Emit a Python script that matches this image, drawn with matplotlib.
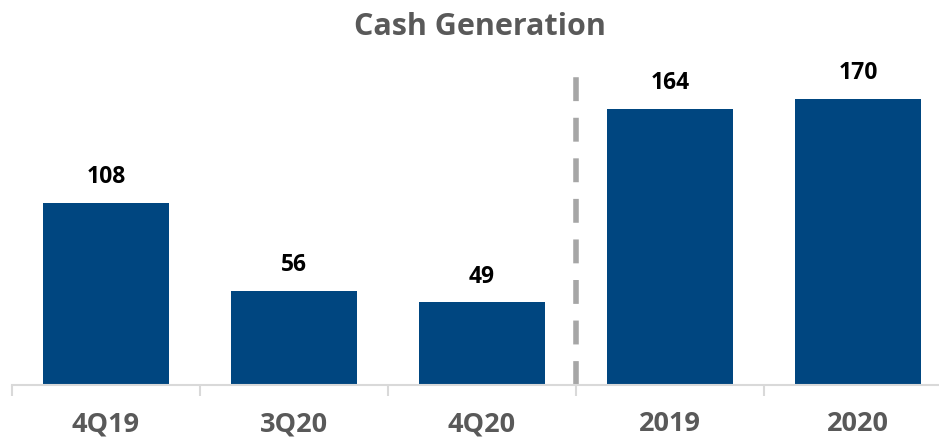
import matplotlib.pyplot as plt

# chart data
categories = ['4Q19', '3Q20', '4Q20', '2019', '2020']
cash = [108, 56, 49, 164, 170]

bar_color = '#004680'
grey = '#595959'

plt.rcParams['font.family'] = ['Open Sans', 'DejaVu Sans']

fig = plt.figure(figsize=(9.39, 4.37), dpi=100)
# axis runs off the right edge a little, like the original slide
ax = fig.add_axes([12 / 939, 52 / 437, 940 / 939, 310 / 437])

x = range(len(categories))
bars = ax.bar(x, cash, width=0.665, color=bar_color)

for b, v in zip(bars, cash):
    ax.annotate(str(v), (b.get_x() + b.get_width() / 2, v),
                xytext=(0, 10), textcoords='offset points',
                ha='center', va='bottom', fontsize=16.5, fontweight='bold', color='black')

# separator between quarters and full years
ax.axvline(2.5, color='#a6a6a6', linewidth=4, dashes=(4.3, 3))

ax.set_xlim(-0.5, len(categories) - 0.5)
ax.set_ylim(0, 184)

ax.set_yticks([])
for s in ['top', 'right', 'left']:
    ax.spines[s].set_visible(False)
ax.spines['bottom'].set_color('#d9d9d9')
ax.spines['bottom'].set_linewidth(1.5)

ax.set_xticks([i - 0.5 for i in range(len(categories) + 1)], minor=False)
ax.set_xticklabels([])
ax.tick_params(axis='x', which='major', length=8, width=1.5, color='#d9d9d9')
ax.set_xticks(list(x), minor=True)
ax.set_xticklabels(categories, minor=True)
ax.tick_params(axis='x', which='minor', length=0, pad=19, labelsize=19.5, labelcolor=grey)
for t in ax.get_xticklabels(minor=True):
    t.set_fontweight('bold')

fig.text(480 / 939, 1 - 27 / 437, 'Cash Generation', ha='center', va='center',
         fontsize=22, fontweight='bold', color=grey)

fig.savefig('out.png', dpi=100)
